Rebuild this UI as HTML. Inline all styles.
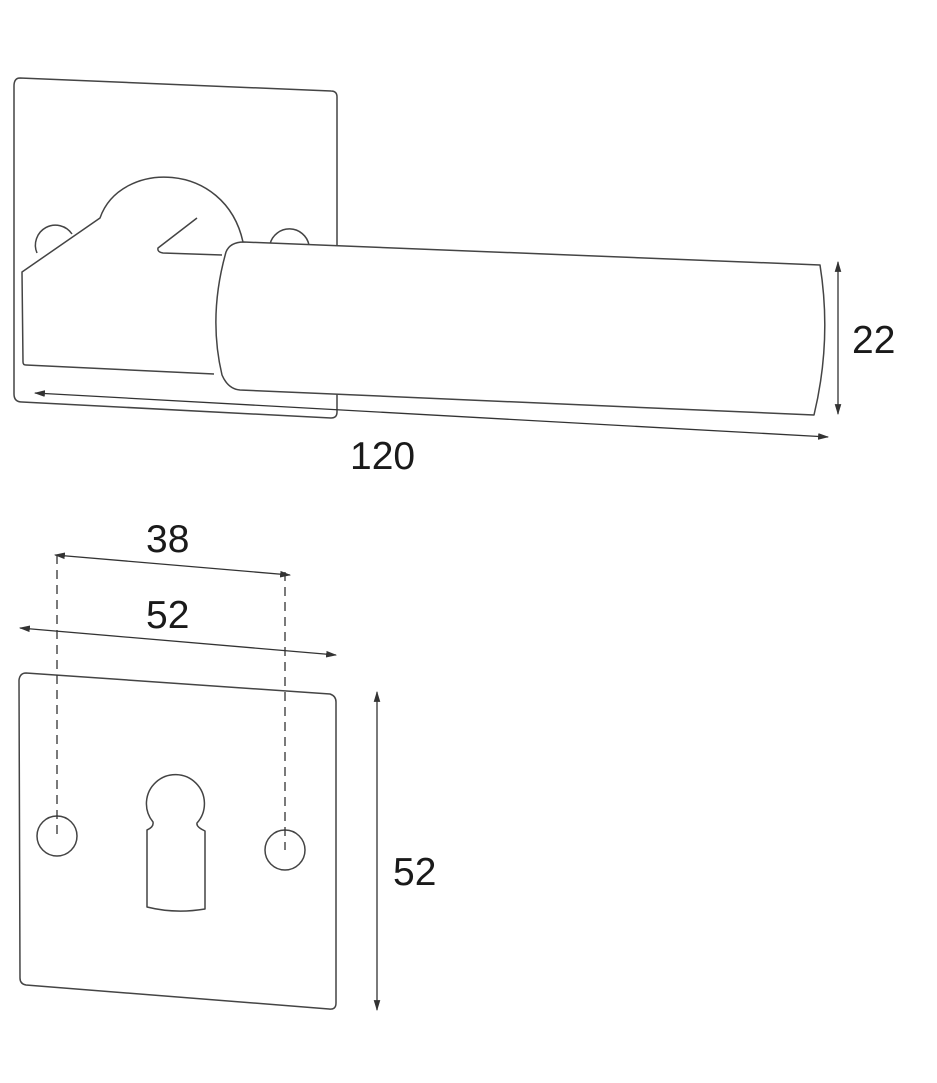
<!DOCTYPE html>
<html><head><meta charset="utf-8"><style>
html,body{margin:0;padding:0;background:#fff;width:937px;height:1083px;overflow:hidden}
svg{display:block}
text{font-family:"Liberation Sans",sans-serif;font-size:39px;fill:#1a1a1a}
</style></head><body>
<svg width="937" height="1083" viewBox="0 0 937 1083" xmlns="http://www.w3.org/2000/svg">
<defs>
<marker id="a" viewBox="0 0 10 10" refX="9" refY="5" markerWidth="11" markerHeight="11" orient="auto-start-reverse" markerUnits="userSpaceOnUse"><path d="M0,2 L10,5 L0,8 z" fill="#333"/></marker>
</defs>
<g fill="none" stroke="#444" stroke-width="1.5" stroke-linejoin="round">
<path d="M20,78 L331,91 Q337,91 337,97 L337,412 Q337,418 331,418 L22,402 Q14,402 14,394 L14,86 Q14,78 20,78 Z"/>
<path d="M37,253 A20,20 0 0 1 72,234"/>
<path d="M270,244 A20,20 0 0 1 309,245"/>
<path d="M214,374 L26,365 Q23,365 23,362 L22,272 L100,218 C120,160 225,160 243,242"/>
<path d="M197,218 L158,248 Q157,252 163,253 L222,255"/>
<path d="M244,242 L820,265 Q832,340 814,415 L240,390 Q228,389 222,375 Q208,316 226,252 Q230,242 244,242 Z" fill="#fff"/>
</g>
<g stroke="#333" stroke-width="1.3" fill="none">
<line x1="35" y1="393" x2="828" y2="437" marker-start="url(#a)" marker-end="url(#a)"/>
<line x1="838" y1="262" x2="838" y2="414" marker-start="url(#a)" marker-end="url(#a)"/>
</g>
<text x="350" y="469">120</text>
<text x="852" y="353">22</text>
<g fill="none" stroke="#444" stroke-width="1.5" stroke-linejoin="round">
<path d="M26,673 L330,694 Q336,696 336,702 L336,1003 Q336,1010 329,1009 L26,985 Q20,984 20,978 L19,680 Q20,673 26,673 Z"/>
<circle cx="57" cy="836" r="20"/>
<circle cx="285" cy="850" r="20"/>
<path d="M147,830 L147,907 Q175,914 205,909 L205,831 Q196,827 197,823 A29,29 0 1 0 153,822 Q154,827 147,830 Z"/>
</g>
<g stroke="#333" stroke-width="1.3" fill="none">
<line x1="57" y1="555" x2="57" y2="836" stroke-dasharray="9,6"/>
<line x1="285" y1="572" x2="285" y2="850" stroke-dasharray="9,6"/>
<line x1="55" y1="555" x2="290" y2="575" marker-start="url(#a)" marker-end="url(#a)"/>
<line x1="20" y1="628" x2="336" y2="655" marker-start="url(#a)" marker-end="url(#a)"/>
<line x1="377" y1="692" x2="377" y2="1010" marker-start="url(#a)" marker-end="url(#a)"/>
</g>
<text x="146" y="552">38</text>
<text x="146" y="628">52</text>
<text x="393" y="885">52</text>
</svg>
</body></html>
